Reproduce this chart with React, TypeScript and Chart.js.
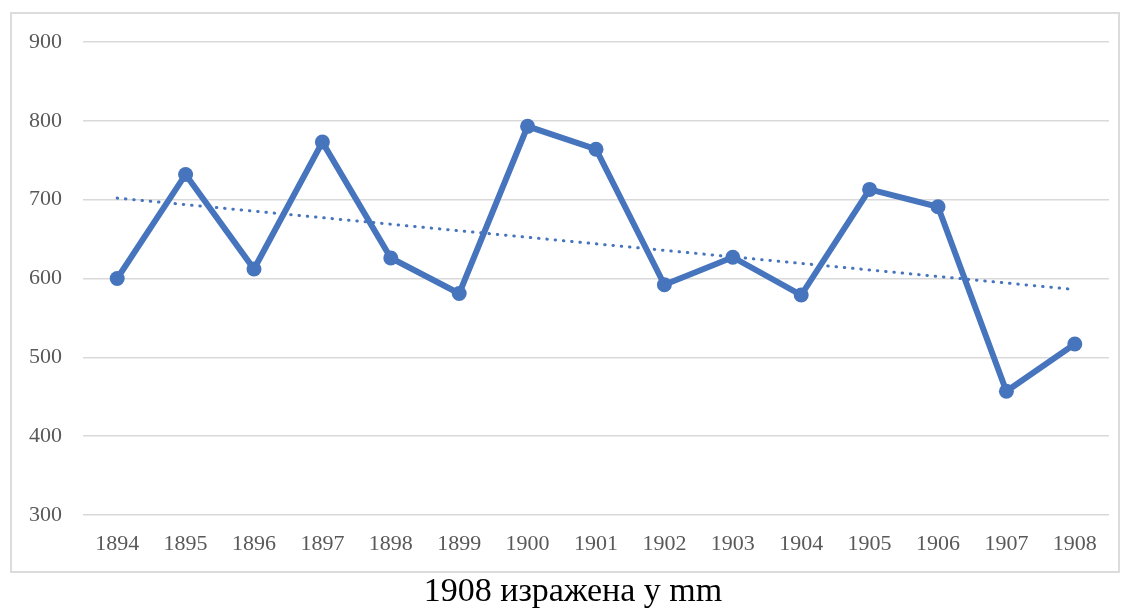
import React, { useEffect, useRef } from "react";
import { Chart, registerables } from "chart.js";

Chart.register(...registerables);

const years = ["1894", "1895", "1896", "1897", "1898", "1899", "1900", "1901", "1902", "1903", "1904", "1905", "1906", "1907", "1908"];
const rainfall = [600, 732, 612, 773, 626, 581, 793, 764, 592, 627, 579, 713, 691, 457, 517];
const trendStart = 702;
const trendEnd = 586;
const trend = years.map((_, i) => (i === 0 ? trendStart : i === years.length - 1 ? trendEnd : null));
const yTicks = [300, 400, 500, 600, 700, 800, 900];
const titleText = "1908 изражена у mm";

const BLUE = "#4674bd";
const SERIF = "'Liberation Serif', 'Times New Roman', serif";

const framePlugin = {
  id: "frame",
  beforeDraw(chart: any) {
    const ctx = chart.ctx;
    ctx.save();
    ctx.fillStyle = "#ffffff";
    ctx.fillRect(0, 0, chart.width, chart.height);
    ctx.strokeStyle = "#dcdcdc";
    ctx.lineWidth = 2;
    ctx.strokeRect(11, 13, 1108, 559);
    ctx.restore();
  },
  afterDraw(chart: any) {
    const ctx = chart.ctx;
    ctx.save();
    ctx.fillStyle = "#000000";
    ctx.font = `34px ${SERIF}`;
    ctx.textAlign = "center";
    ctx.textBaseline = "middle";
    ctx.fillText(titleText, 573, 592);
    ctx.restore();
  },
};

export default function App() {
  const ref = useRef<HTMLCanvasElement | null>(null);
  useEffect(() => {
    document.body.style.margin = "0";
    const chart = new Chart(ref.current as HTMLCanvasElement, {
      type: "line",
      data: {
        labels: years,
        datasets: [
          {
            data: rainfall,
            borderColor: BLUE,
            backgroundColor: BLUE,
            borderWidth: 6,
            pointRadius: 7.5,
            pointBackgroundColor: BLUE,
            pointBorderWidth: 0,
            tension: 0,
            order: 1,
          },
          {
            data: trend,
            borderColor: BLUE,
            borderWidth: 3,
            borderDash: [0.5, 7.8],
            borderCapStyle: "round",
            pointRadius: 0,
            spanGaps: true,
            order: 2,
          },
        ],
      },
      options: {
        animation: false,
        responsive: false,
        events: [],
        layout: { padding: { left: 10, right: 23, top: 42, bottom: 46 } },
        plugins: { legend: { display: false }, tooltip: { enabled: false }, title: { display: false } },
        scales: {
          x: {
            offset: true,
            grid: { display: false, drawTicks: false },
            border: { display: false },
            ticks: { color: "#595959", font: { family: SERIF, size: 22 }, padding: 16, maxRotation: 0, autoSkip: false },
            afterFit(scale: any) {
              scale.height = 50;
            },
          },
          y: {
            min: 300,
            max: 900,
            afterBuildTicks(scale: any) {
              scale.ticks = yTicks.map((v) => ({ value: v }));
            },
            grid: { color: "#d9d9d9", lineWidth: 1.5, drawTicks: false },
            border: { display: false },
            ticks: { color: "#595959", font: { family: SERIF, size: 22 }, padding: 21 },
            afterFit(scale: any) {
              scale.width = 73;
            },
          },
        },
      },
      plugins: [framePlugin],
    });
    return () => chart.destroy();
  }, []);
  return (
    <div style={{ position: "absolute", left: 0, top: 0, width: 1132, height: 611 }}>
      <canvas ref={ref} width={1132} height={611} style={{ width: 1132, height: 611 }} />
    </div>
  );
}
